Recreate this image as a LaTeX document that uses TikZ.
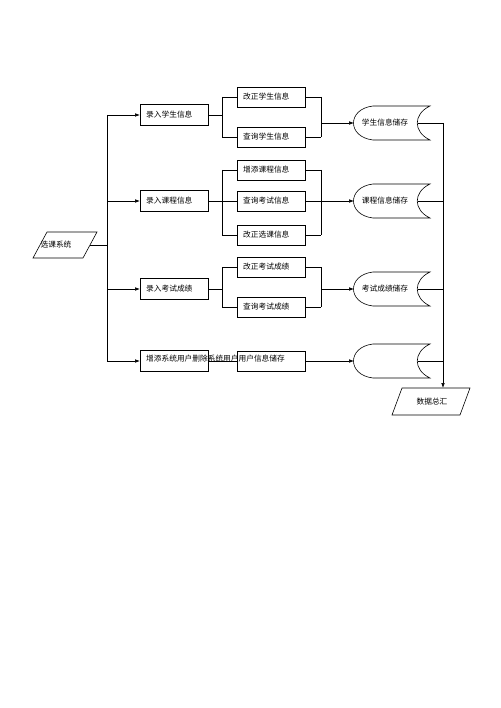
\documentclass[tikz,border=0pt]{standalone}
\usepackage{fontspec}
\newfontfamily\cjk{Noto Sans CJK SC}
\usetikzlibrary{arrows.meta}
\tikzset{
  lbl/.style={font=\cjk\fontsize{7.7}{9}\selectfont, inner sep=0pt},
  lvbox/.style={draw, rectangle, minimum width=68pt, minimum height=21pt, text width=56pt, inner xsep=6pt, inner ysep=0pt, align=left, font=\cjk\fontsize{7.7}{9}\selectfont},
  conn/.style={draw, line width=0.6pt},
  arr/.style={conn, -{Latex[length=5pt,width=3.6pt]}},
  shapeline/.style={draw, line width=0.6pt}
}
\newcommand{\storagebox}[3]{%
  \node[lbl] (#1) at (385,#2) {#3};
  \draw[shapeline] (373,#2-17) -- (430,#2-17) .. controls (413,#2-9) and (413,#2+9) .. (430,#2+17) -- (373,#2+17) .. controls (347,#2+14) and (347,#2-14) .. (373,#2-17) -- cycle;
  \coordinate (#1in) at (354,#2);
  \coordinate (#1out) at (418,#2);
}
\begin{document}
\begin{tikzpicture}[x=1pt,y=-1pt]
\useasboundingbox[fill=white] (0,0) rectangle (500,708);

% start parallelogram
\draw[shapeline] (47,232) -- (97,232) -- (83,258) -- (33,258) -- cycle;
\node[lbl] (sys) at (56,245) {选课系统};
\coordinate (sysout) at (90,245);
\coordinate (trunk) at (107,245);

% level 1 boxes
\node[lvbox, anchor=west] (b1) at (140,115) {录入学生信息};
\node[lvbox, anchor=west] (b2) at (140,201) {录入课程信息};
\node[lvbox, anchor=west] (b3) at (140,289) {录入考试成绩};
\node[lvbox, anchor=west] (b4) at (140,361) {};
\node[lbl, anchor=west] (t4) at (146,359) {增添系统用户删除系统用户用户信息储存};

% level 2 boxes
\node[lvbox, anchor=west, minimum height=20pt] (c11) at (237,97) {改正学生信息};
\node[lvbox, anchor=west, minimum height=20pt] (c12) at (237,137) {查询学生信息};
\node[lvbox, anchor=west, minimum height=20pt] (c21) at (237,170) {增添课程信息};
\node[lvbox, anchor=west, minimum height=20pt] (c22) at (237,201) {查询考试信息};
\node[lvbox, anchor=west, minimum height=20pt] (c23) at (237,235) {改正选课信息};
\node[lvbox, anchor=west, minimum height=20pt] (c31) at (237,267) {改正考试成绩};
\node[lvbox, anchor=west, minimum height=20pt] (c32) at (237,307) {查询考试成绩};
\node[lvbox, anchor=west, minimum height=20pt] (c41) at (237,361) {};

% storage shapes
\storagebox{s1}{123}{学生信息储存}
\storagebox{s2}{201}{课程信息储存}
\storagebox{s3}{289}{考试成绩储存}
\storagebox{s4}{361}{}

% final parallelogram
\draw[shapeline] (402,388) -- (470,388) -- (460,415) -- (392,415) -- cycle;
\node[lbl] (sum) at (432,402) {数据总汇};
\coordinate (sumtop) at (443,388);

% trunk
\draw[conn] (sysout) -- (trunk);
\draw[conn] (trunk |- b1.west) -- (trunk |- b4.west);
\foreach \b in {b1,b2,b3,b4} {
  \draw[arr] (trunk |- \b.west) -- (\b.west);
}

% group 1
\coordinate (l1) at (222,0);
\coordinate (r1) at (321,0);
\draw[conn] (b1.east) -- (l1 |- b1.east);
\draw[conn] (l1 |- c11.west) -- (l1 |- c12.west);
\draw[conn] (l1 |- c11.west) -- (c11.west);
\draw[conn] (l1 |- c12.west) -- (c12.west);
\draw[conn] (c11.east) -- (r1 |- c11.east);
\draw[conn] (c12.east) -- (r1 |- c12.east);
\draw[conn] (r1 |- c11.east) -- (r1 |- c12.east);
\draw[arr] (r1 |- s1in) -- (s1in);

% group 2
\draw[conn] (b2.east) -- (l1 |- b2.east);
\draw[conn] (l1 |- c21.west) -- (l1 |- c23.west);
\draw[conn] (l1 |- c21.west) -- (c21.west);
\draw[conn] (l1 |- c22.west) -- (c22.west);
\draw[conn] (l1 |- c23.west) -- (c23.west);
\draw[conn] (c21.east) -- (r1 |- c21.east);
\draw[conn] (c22.east) -- (r1 |- c22.east);
\draw[conn] (c23.east) -- (r1 |- c23.east);
\draw[conn] (r1 |- c21.east) -- (r1 |- c23.east);
\draw[arr] (r1 |- s2in) -- (s2in);

% group 3
\draw[conn] (b3.east) -- (l1 |- b3.east);
\draw[conn] (l1 |- c31.west) -- (l1 |- c32.west);
\draw[conn] (l1 |- c31.west) -- (c31.west);
\draw[conn] (l1 |- c32.west) -- (c32.west);
\draw[conn] (c31.east) -- (r1 |- c31.east);
\draw[conn] (c32.east) -- (r1 |- c32.east);
\draw[conn] (r1 |- c31.east) -- (r1 |- c32.east);
\draw[arr] (r1 |- s3in) -- (s3in);

% group 4
\draw[conn] (b4.east) -- (c41.west);
\draw[arr] (c41.east) -- (s4in);

% collection
\coordinate (col) at (443,0);
\foreach \s in {s1,s2,s3,s4} {
  \draw[conn] (\s out) -- (col |- \s out);
}
\draw[arr] (col |- s1out) -- (sumtop);
\end{tikzpicture}
\end{document}
